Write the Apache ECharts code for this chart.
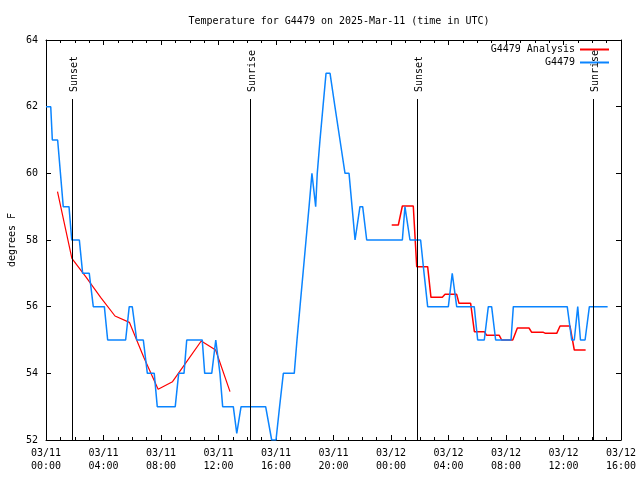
<!DOCTYPE html>
<html><head><meta charset="utf-8">
<script src="https://cdn.jsdelivr.net/npm/echarts@6/dist/echarts.min.js"></script>
<style>html,body{margin:0;padding:0;background:#fff}#c{width:640px;height:480px}</style>
</head><body><div id="c"></div>
<script>
const chartTitle = 'Temperature for G4479 on 2025-Mar-11 (time in UTC)';
const yAxisName = 'degrees F';
const xTickLabels = ['03/11\n00:00','03/11\n04:00','03/11\n08:00','03/11\n12:00','03/11\n16:00','03/11\n20:00','03/12\n00:00','03/12\n04:00','03/12\n08:00','03/12\n12:00','03/12\n16:00'];
const seriesNames = ['G4479 Analysis', 'G4479'];

// observed (hours since 03/11 00:00 UTC)
const obsHours = [0.00,0.33,0.44,0.81,1.20,1.60,1.79,2.32,2.55,3.01,3.29,4.06,4.29,5.54,5.79,6.00,6.31,6.77,7.05,7.53,7.74,8.99,9.23,9.60,9.79,10.87,11.04,11.53,11.81,12.10,12.29,13.03,13.27,13.57,15.28,15.70,16.00,16.25,16.51,17.27,17.46,17.67,17.88,18.09,18.30,18.50,18.76,18.87,19.06,19.27,19.48,19.76,20.10,20.45,20.80,21.08,21.29,21.50,21.84,22.03,22.31,24.79,24.97,25.32,26.06,26.30,26.55,27.99,28.26,28.57,29.79,30.03,30.49,30.77,31.00,31.28,32.35,32.51,36.26,36.57,36.75,36.99,37.18,37.50,37.80,39.07];
const obsTemps = [62,62,61,61,59,59,58,58,57,57,56,56,55,55,56,56,55,55,54,54,53,53,54,54,55,55,54,54,55,54,53,53,52.2,53,53,52,52,53,54,54,55,56,57,58,59,60,59,60,61,62,63,63,62,61,60,60,59,58,59,59,58,58,59,58,58,57,56,56,57,56,56,55,55,56,56,55,55,56,56,55,55,56,55,55,56,56];

// analysis, two segments
const anaHours1 = [0.8,1.8,2.8,3.8,4.8,5.8,6.8,7.8,8.8,9.8,10.8,11.8,12.8];
const anaTemps1 = [59.45,57.45,56.88,56.28,55.72,55.53,54.48,53.52,53.75,54.36,54.97,54.70,53.45];
const anaHours2 = [24.05,24.51,24.79,25.55,25.79,26.55,26.78,27.57,27.76,28.57,28.73,29.54,29.80,30.49,30.66,31.53,31.70,32.47,32.79,33.60,33.79,34.60,34.75,35.53,35.76,36.45,36.75,37.54];
const anaTemps2 = [58.45,58.45,59.02,59.02,57.2,57.2,56.28,56.28,56.37,56.37,56.1,56.1,55.25,55.25,55.14,55.14,55.0,55.0,55.36,55.36,55.23,55.23,55.2,55.2,55.42,55.42,54.7,54.7];

const sunHours = [1.83, 14.17, 25.83, 38.08];
const sunNames = ['Sunset', 'Sunrise', 'Sunset', 'Sunrise'];

const FONT = '"DejaVu Sans Mono", "Liberation Mono", monospace';
const zip = (a, b) => a.map((v, i) => [v, b[i]]);

const chart = echarts.init(document.getElementById('c'), null, {renderer: 'canvas'});

const xBase = {
  type: 'value', min: 0, max: 40, interval: 4,
  axisLine: {show: true, onZero: false, lineStyle: {color: '#000', width: 1}},
  axisTick: {show: true, inside: true, length: 5, lineStyle: {color: '#000'}},
  minorTick: {show: true, splitNumber: 4, length: 3, lineStyle: {color: '#000'}},
  splitLine: {show: false}
};
const yBase = {
  type: 'value', min: 52, max: 64, interval: 2,
  axisLine: {show: true, onZero: false, lineStyle: {color: '#000', width: 1}},
  axisTick: {show: true, inside: true, length: 5, lineStyle: {color: '#000'}},
  splitLine: {show: false}
};

chart.setOption({
  animation: false,
  backgroundColor: '#fff',
  title: {
    text: chartTitle, left: 334, top: 11, textAlign: 'center',
    textStyle: {fontFamily: FONT, fontSize: 10, fontWeight: 'normal', color: '#000'}
  },
  legend: {
    data: seriesNames, orient: 'vertical', align: 'right',
    right: 26, top: 38, itemGap: 0, itemWidth: 29, itemHeight: 2, icon: 'rect',
    textStyle: {fontFamily: FONT, fontSize: 10, color: '#000', lineHeight: 13}
  },
  grid: {left: 46, right: 19, top: 40, bottom: 40, containLabel: false, outerBoundsMode: 'none'},
  xAxis: [
    Object.assign({}, xBase, {position: 'bottom',
      axisLabel: {show: true, margin: 7, fontFamily: FONT, fontSize: 10, lineHeight: 13, color: '#000',
        formatter: v => xTickLabels[Math.round(v / 4)]}}),
    Object.assign({}, xBase, {position: 'top', axisLabel: {show: false}})
  ],
  yAxis: [
    Object.assign({}, yBase, {position: 'left', name: yAxisName, nameLocation: 'middle', nameGap: 29,
      nameMoveOverlap: false,
      nameTextStyle: {fontFamily: FONT, fontSize: 10, color: '#000'},
      axisLabel: {show: true, margin: 8, fontFamily: FONT, fontSize: 10, color: '#000'}}),
    Object.assign({}, yBase, {position: 'right', axisLabel: {show: false}})
  ],
  series: [
    {name: seriesNames[0], type: 'line', data: zip(anaHours1, anaTemps1), showSymbol: false, symbol: 'none',
     itemStyle: {color: '#ff0000'}, lineStyle: {color: '#ff0000', width: 1.2}, z: 2},
    {name: seriesNames[0], type: 'line', data: zip(anaHours2, anaTemps2), showSymbol: false, symbol: 'none',
     itemStyle: {color: '#ff0000'}, lineStyle: {color: '#ff0000', width: 1.5}, z: 2},
    {name: seriesNames[1], type: 'line', data: zip(obsHours, obsTemps), showSymbol: false, symbol: 'none',
     itemStyle: {color: '#0a84ff'}, lineStyle: {color: '#0a84ff', width: 1.5}, z: 3},
    {type: 'custom', data: sunHours.map(h => [h, 52]), encode: {x: 0, y: 1}, z: 4, silent: true,
     renderItem: (params, api) => {
       const p = api.coord([api.value(0), 52]);
       const x = Math.round(p[0]) + 0.5;
       const cs = params.coordSys;
       const topY = cs.y + 59;
       return {type: 'group', children: [
         {type: 'line', shape: {x1: x, y1: topY, x2: x, y2: cs.y + cs.height},
          style: {stroke: '#000', lineWidth: 1}},
         {type: 'text', x: x + 1.5, y: topY - 7, rotation: Math.PI / 2,
          style: {text: sunNames[params.dataIndex], font: '10px ' + FONT, fill: '#000',
                  align: 'left', verticalAlign: 'middle'}}
       ]};
     }}
  ]
});
</script></body></html>
